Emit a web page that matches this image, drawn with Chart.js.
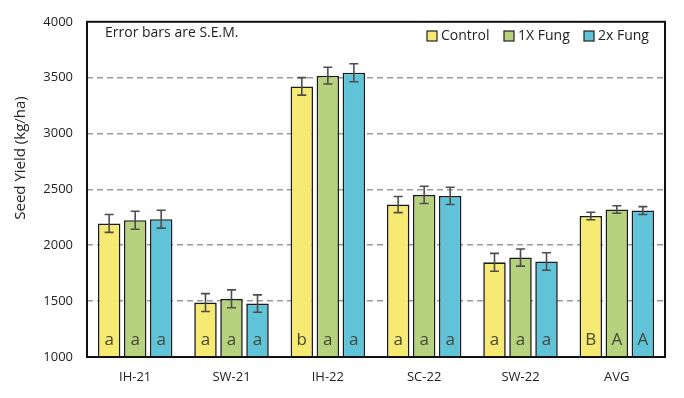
<!DOCTYPE html>
<html>
<head>
<meta charset="utf-8">
<script src="https://cdn.jsdelivr.net/npm/chart.js@4/dist/chart.umd.min.js"></script>
<style>
html,body{margin:0;padding:0;background:#fff;}
#wrap{width:684px;height:398px;}
</style>
</head>
<body>
<div id="wrap"><canvas id="c" width="684" height="398"></canvas></div>
<script>
const categories = ['IH-21','SW-21','IH-22','SC-22','SW-22','AVG'];
const seriesNames = ['Control','1X Fung','2x Fung'];
const control = [2195, 1487, 3422, 2364, 1847, 2262];
const fung1x  = [2224, 1521, 3518, 2451, 1890, 2320];
const fung2x  = [2233, 1478, 3544, 2442, 1855, 2311];
const controlErr = [80, 80, 78, 72, 80, 33];
const fung1xErr  = [80, 80, 75, 77, 77, 33];
const fung2xErr  = [80, 78, 80, 77, 78, 35];
const controlLetters = ['a','a','b','a','a','B'];
const fung1xLetters  = ['a','a','a','a','a','A'];
const fung2xLetters  = ['a','a','a','a','a','A'];
const yTicks = [1000,1500,2000,2500,3000,3500,4000];
const noteText = 'Error bars are S.E.M.';
const yTitle = 'Seed Yield (kg/ha)';

const colors = ['#f6ea72','#b6d27f','#60c3d8'];
const errs = [controlErr, fung1xErr, fung2xErr];
const letters = [controlLetters, fung1xLetters, fung2xLetters];
const FONT = "'Open Sans', sans-serif";

Chart.defaults.font.family = FONT;
Chart.defaults.color = '#222';

const overlay = {
  id: 'overlay',
  afterDatasetsDraw(chart) {
    const ctx = chart.ctx;
    const y = chart.scales.y;
    const a = chart.chartArea;
    ctx.save();
    chart.data.datasets.forEach((ds, di) => {
      const meta = chart.getDatasetMeta(di);
      meta.data.forEach((el, i) => {
        const v = ds.data[i], e = errs[di][i];
        const y1 = y.getPixelForValue(v + e), y2 = y.getPixelForValue(v - e);
        ctx.strokeStyle = '#4d4d4d';
        ctx.lineWidth = 1.6;
        ctx.beginPath();
        ctx.moveTo(el.x, y1); ctx.lineTo(el.x, y2);
        ctx.moveTo(el.x - 4.5, y1); ctx.lineTo(el.x + 4.5, y1);
        ctx.moveTo(el.x - 4.5, y2); ctx.lineTo(el.x + 4.5, y2);
        ctx.stroke();
        ctx.fillStyle = '#474738';
        ctx.font = '17px ' + FONT;
        ctx.textAlign = 'center';
        ctx.textBaseline = 'middle';
        ctx.fillText(letters[di][i], el.x, a.bottom - 17);
      });
    });
    ctx.strokeStyle = '#111';
    ctx.lineWidth = 2;
    ctx.strokeRect(a.left, a.top, a.right - a.left, a.bottom - a.top);
    ctx.fillStyle = '#222';
    ctx.font = '14px ' + FONT;
    ctx.textAlign = 'left';
    ctx.textBaseline = 'middle';
    ctx.fillText(noteText, a.left + 18, 33);
    const xs = [427, 504, 584];
    seriesNames.forEach((n, i) => {
      ctx.fillStyle = colors[i];
      ctx.fillRect(xs[i], 31, 10, 10);
      ctx.strokeStyle = '#222';
      ctx.lineWidth = 1.2;
      ctx.strokeRect(xs[i], 31, 10, 10);
      ctx.fillStyle = '#222';
      ctx.fillText(n, xs[i] + 14, 36);
    });
    // y axis title
    ctx.translate(21, 158);
    ctx.rotate(-Math.PI / 2);
    ctx.font = '15px ' + FONT;
    ctx.textAlign = 'center';
    ctx.fillStyle = '#222';
    ctx.fillText(yTitle, 0, 0);
    ctx.restore();
  }
};

new Chart(document.getElementById('c'), {
  type: 'bar',
  data: {
    labels: categories,
    datasets: [control, fung1x, fung2x].map((d, i) => ({
      label: seriesNames[i],
      data: d,
      backgroundColor: colors[i],
      borderColor: '#1c1c1c',
      borderWidth: 1.6,
      borderSkipped: false,
      categoryPercentage: 0.81,
      barPercentage: 0.865
    }))
  },
  options: {
    responsive: false,
    animation: false,
    layout: { padding: { top: 13, right: 19, left: 0, bottom: 0 } },
    plugins: { legend: { display: false }, tooltip: { enabled: false } },
    scales: {
      x: {
        grid: { display: false, drawTicks: false },
        border: { display: false },
        ticks: { font: { size: 13 }, color: '#222', padding: 12 },
        afterFit(s) { s.height = 41; }
      },
      y: {
        min: 1000, max: 4000,
        afterBuildTicks(s) { s.ticks = yTicks.map(v => ({ value: v })); },
        grid: {
          drawTicks: false,
          color: c => (c.tick && (c.tick.value === 1000 || c.tick.value === 4000)) ? 'rgba(0,0,0,0)' : '#9a9a9a',
          lineWidth: 1.6
        },
        border: { display: false, dash: [6, 4] },
        ticks: { font: { size: 13 }, color: '#222', padding: 14, callback: v => String(v) },
        title: { display: false },
        afterFit(s) { s.width = 87; }
      }
    }
  },
  plugins: [overlay]
});
</script>
</body>
</html>
